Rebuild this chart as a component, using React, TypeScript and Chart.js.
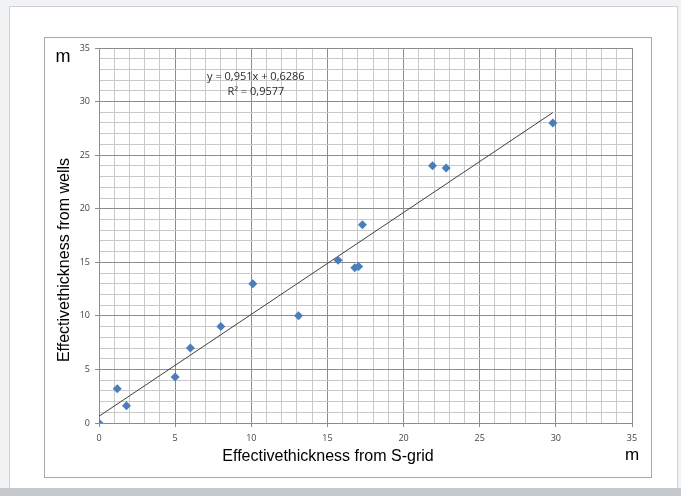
import React, { useEffect, useRef } from "react";
import { Chart, registerables } from "chart.js";

Chart.register(...registerables);

const sGridThickness = [0, 1.2, 1.8, 5.0, 6.0, 8.0, 10.1, 13.1, 15.7, 16.8, 17.05, 17.3, 21.9, 22.8, 29.8];
const wellThickness = [0, 3.2, 1.6, 4.3, 7.0, 9.0, 13.0, 10.0, 15.2, 14.5, 14.6, 18.5, 24.0, 23.8, 28.0];
const trendSlope = 0.951;
const trendIntercept = 0.6286;
const trendRange = [0, 29.8];
const equationText = "y = 0,951x + 0,6286";
const r2Text = "R² = 0,9577";
const xTitle = "Effectivethickness from S-grid";
const yTitle = "Effectivethickness from wells";
const unitLabel = "m";
const axisMin = 0;
const axisMax = 35;

const W = 681;
const H = 496;

const decorPlugin = {
  id: "decor",
  beforeDraw(chart: any) {
    const ctx = chart.ctx;
    ctx.save();
    ctx.fillStyle = "#f1f2f4";
    ctx.fillRect(0, 0, W, H);
    ctx.fillStyle = "#ffffff";
    ctx.fillRect(9, 6, 668, 482);
    ctx.strokeStyle = "#cdd1d5";
    ctx.lineWidth = 1;
    ctx.strokeRect(9.5, 6.5, 668, 482);
    ctx.fillStyle = "#c5c9cc";
    ctx.fillRect(0, 488, W, 8);
    ctx.strokeStyle = "#a9a9a9";
    ctx.strokeRect(44.5, 37.5, 607, 440);
    ctx.restore();
  },
  afterDraw(chart: any) {
    const ctx = chart.ctx;
    const xs = chart.scales.x;
    const ys = chart.scales.y;
    ctx.save();
    ctx.fillStyle = "#2a2a2a";
    ctx.textAlign = "center";
    ctx.textBaseline = "middle";
    ctx.font = "11px 'Open Sans', 'Liberation Sans', sans-serif";
    const ex = xs.getPixelForValue(10.3);
    ctx.fillText(equationText, ex, ys.getPixelForValue(32.3));
    ctx.fillText(r2Text, ex, ys.getPixelForValue(30.9));

    ctx.fillStyle = "#000000";
    ctx.font = "16px 'Liberation Sans', Arial, sans-serif";
    ctx.fillText(xTitle, 328, 457);
    ctx.save();
    ctx.translate(65, 260);
    ctx.rotate(-Math.PI / 2);
    ctx.fillText(yTitle, 0, 0);
    ctx.restore();

    ctx.font = "18px 'Liberation Sans', Arial, sans-serif";
    ctx.fillText(unitLabel, 63, 57);
    ctx.font = "17px 'Liberation Sans', Arial, sans-serif";
    ctx.fillText(unitLabel, 632, 455);
    ctx.restore();
  },
};

const majorColor = (c: any) => (c.tick && c.tick.value % 5 === 0 ? "#8c8c8c" : "#c9c9c9");
const tickMarkColor = (c: any) => (c.tick && c.tick.value % 5 === 0 ? "#8c8c8c" : "rgba(0,0,0,0)");
const tickLabel = (v: any) => (Number(v) % 5 === 0 ? String(v) : "");

export default function App() {
  const ref = useRef<HTMLCanvasElement | null>(null);
  useEffect(() => {
    if (!ref.current) return;
    const points = sGridThickness.map((x, i) => ({ x, y: wellThickness[i] }));
    const trend = trendRange.map((x) => ({ x, y: trendSlope * x + trendIntercept }));
    const tickFont = { family: "'Open Sans', 'Liberation Sans', sans-serif", size: 9 };
    const chart = new Chart(ref.current, {
      type: "scatter",
      data: {
        datasets: [
          {
            type: "line",
            data: trend,
            borderColor: "#404040",
            borderWidth: 1,
            pointRadius: 0,
            showLine: true,
            fill: false,
            order: 2,
          } as any,
          {
            data: points,
            pointStyle: "rectRot",
            pointRadius: 4.5,
            backgroundColor: "#4a7ebb",
            borderColor: "#4a7ebb",
            borderWidth: 0,
            order: 1,
          },
        ],
      },
      options: {
        responsive: false,
        animation: false,
        devicePixelRatio: 1,
        layout: { padding: { left: 59, right: 49, top: 48, bottom: 43 } },
        plugins: { legend: { display: false }, tooltip: { enabled: false } },
        scales: {
          x: {
            type: "linear",
            min: axisMin,
            max: axisMax,
            afterFit: (s: any) => { s.height = 30; },
            border: { color: "#8c8c8c" },
            grid: { color: majorColor, tickColor: tickMarkColor, tickLength: 4 },
            ticks: { stepSize: 1, autoSkip: false, maxRotation: 0, padding: 6, color: "#444444", font: tickFont, callback: tickLabel },
          },
          y: {
            type: "linear",
            min: axisMin,
            max: axisMax,
            afterFit: (s: any) => { s.width = 40; },
            border: { color: "#8c8c8c" },
            grid: { color: majorColor, tickColor: tickMarkColor, tickLength: 4 },
            ticks: { stepSize: 1, autoSkip: false, padding: 5, color: "#444444", font: tickFont, callback: tickLabel },
          },
        },
      },
      plugins: [decorPlugin],
    });
    return () => chart.destroy();
  }, []);
  return (
    <div style={{ position: "fixed", left: 0, top: 0, width: W, height: H }}>
      <canvas ref={ref} width={W} height={H} style={{ width: W, height: H, display: "block" }} />
    </div>
  );
}
